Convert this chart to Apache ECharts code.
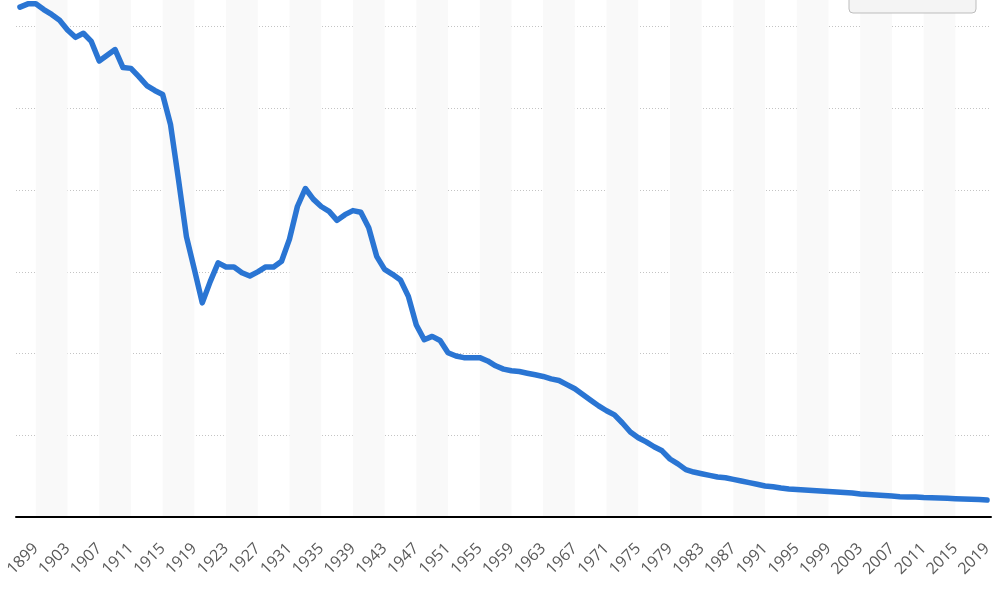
<!DOCTYPE html>
<html>
<head>
<meta charset="utf-8">
<script src="https://cdn.jsdelivr.net/npm/echarts@6/dist/echarts.min.js"></script>
<style>
html,body{margin:0;padding:0;background:#fff;overflow:hidden;width:1000px;height:594px;position:relative;}
#chart{position:absolute;left:0;top:-55px;width:1000px;height:649px;}
</style>
</head>
<body>
<div id="chart"></div>
<script>
const years = ['1897','1898','1899','1900','1901','1902','1903','1904','1905','1906','1907','1908','1909',
'1910','1911','1912','1913','1914','1915','1916','1917','1918','1919','1920','1921','1922','1923','1924',
'1925','1926','1927','1928','1929','1930','1931','1932','1933','1934','1935','1936','1937','1938','1939',
'1940','1941','1942','1943','1944','1945','1946','1947','1948','1949','1950','1951','1952','1953','1954',
'1955','1956','1957','1958','1959','1960','1961','1962','1963','1964','1965','1966','1967','1968','1969',
'1970','1971','1972','1973','1974','1975','1976','1977','1978','1979','1980','1981','1982','1983','1984',
'1985','1986','1987','1988','1989','1990','1991','1992','1993','1994','1995','1996','1997','1998','1999',
'2000','2001','2002','2003','2004','2005','2006','2007','2008','2009','2010','2011','2012','2013','2014',
'2015','2016','2017','2018','2019'];

const values = [624,628,628,621,615,608,596,587,592,582,558,565,572,
550,549,539,528,522,517,480,413,343,303,262,288,311,306,306,
299,295,300,306,306,313,340,380,402,389,380,374,363,370,375,
373,354,319,303,297,290,270,235,217,221,216,201,197,195,195,
195,191,185,181,179,178,176,174,172,169,167,162,157,150,143,
136,130,125,115,104,97,92,86,81,71,65,58,55,53,51,
49,48,46,44,42,40,38,37,35.5,34.3,33.7,33.1,32.5,31.9,31.3,
30.6,30.0,29.4,28.2,27.6,27.0,26.4,25.7,24.9,24.5,24.5,23.9,23.7,23.3,22.9,
22.4,22.1,21.7,21.3,20.8];

const tickLabels = ['1899','1903','1907','1911','1915','1919','1923','1927','1931','1935','1939','1943',
'1947','1951','1955','1959','1963','1967','1971','1975','1979','1983','1987','1991','1995','1999',
'2003','2007','2011','2015','2019'];

const bands = [];
for (let k = 0; k + 1 < tickLabels.length; k += 2) {
  bands.push([{xAxis: tickLabels[k]}, {xAxis: tickLabels[k + 1]}]);
}

const chart = echarts.init(document.getElementById('chart'), null, {renderer: 'canvas'});
chart.setOption({
  animation: false,
  backgroundColor: '#ffffff',
  grid: {left: 16, right: 9, top: 0, bottom: 77, containLabel: false},
  xAxis: {
    type: 'category',
    data: years,
    boundaryGap: true,
    z: 5,
    axisLine: {show: true, lineStyle: {color: '#000', width: 2}},
    axisTick: {show: false},
    axisLabel: {
      interval: function (i, v) { return tickLabels.indexOf(v) >= 0; },
      rotate: 45,
      margin: 29,
      color: '#5a5a5a',
      fontSize: 16,
      fontFamily: 'Open Sans'
    },
    splitLine: {show: false}
  },
  yAxis: {
    type: 'value',
    min: 0,
    max: 700,
    interval: 100,
    z: 1,
    axisLabel: {show: false},
    axisLine: {show: false},
    axisTick: {show: false},
    splitLine: {show: true, lineStyle: {color: '#c4c4c4', type: [1, 2], width: 1}}
  },
  series: [{
    type: 'line',
    data: [],
    symbol: 'none',
    silent: true,
    z: 0,
    markArea: {
      silent: true,
      itemStyle: {color: '#f9f9f9'},
      data: bands
    }
  }, {
    type: 'line',
    data: values,
    symbol: 'none',
    clip: false,
    lineStyle: {color: '#2a75d3', width: 5.5, join: 'round', cap: 'round'},
    z: 3
  }],
  graphic: [{
    type: 'rect',
    shape: {x: 849, y: 35, width: 127, height: 33, r: 4},
    style: {fill: '#f4f4f4', stroke: '#bdbdbd', lineWidth: 1},
    z: 10
  }]
});
</script>
</body>
</html>
